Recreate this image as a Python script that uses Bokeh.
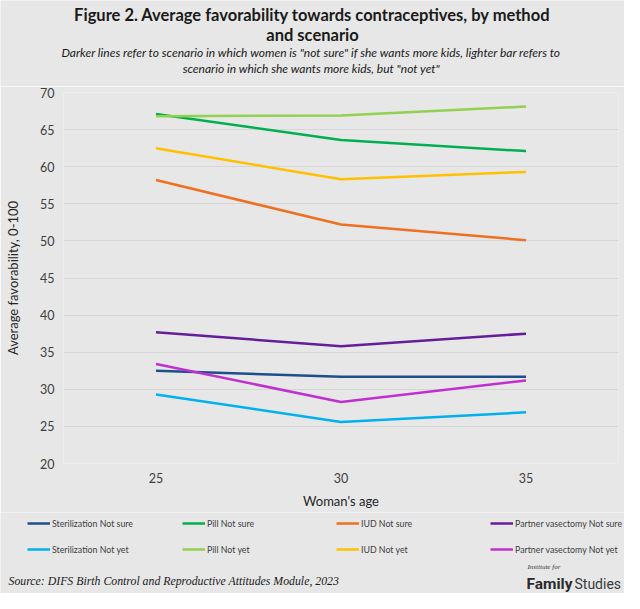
from bokeh.plotting import figure
from bokeh.models import Label, Legend, LegendItem, FixedTicker, Range1d, ColumnDataSource
from bokeh.layouts import column
from bokeh.embed import file_html
from bokeh.resources import INLINE

# ---- data ----
ages = [25, 30, 35]
x_ticks = [25, 30, 35]
y_ticks = [20, 25, 30, 35, 40, 45, 50, 55, 60, 65, 70]

series_names = [
    "Sterilization Not sure", "Pill Not sure", "IUD Not sure", "Partner vasectomy Not sure",
    "Sterilization Not yet", "Pill Not yet", "IUD Not yet", "Partner vasectomy Not yet",
]
sterilization_not_sure = [32.5, 31.7, 31.7]
pill_not_sure = [67.1, 63.6, 62.1]
iud_not_sure = [58.2, 52.2, 50.1]
vasectomy_not_sure = [37.7, 35.8, 37.5]
sterilization_not_yet = [29.3, 25.6, 26.9]
pill_not_yet = [66.8, 66.9, 68.1]
iud_not_yet = [62.5, 58.3, 59.3]
vasectomy_not_yet = [33.4, 28.3, 31.2]

series_values = [
    sterilization_not_sure, pill_not_sure, iud_not_sure, vasectomy_not_sure,
    sterilization_not_yet, pill_not_yet, iud_not_yet, vasectomy_not_yet,
]
series_colors = [
    "#1F4E8C", "#00B050", "#EE7020", "#641E9B",
    "#00B0F0", "#92D050", "#FFC000", "#C030D0",
]

title_lines = ["Figure 2. Average favorability towards contraceptives, by method", "and scenario"]
subtitle_lines = ['Darker lines refer to scenario in which women is "not sure" if she wants more kids, lighter bar refers to',
                  'scenario in which she wants more kids, but "not yet"']
source_text = "Source: DIFS Birth Control and Reproductive Attitudes Module, 2023"

BG = "#E7E7E7"
FONT = "Lato"
TXT = "#404040"
W = 624


def blank(height):
    f = figure(width=W, height=height, output_backend="svg", toolbar_location=None,
               x_range=Range1d(0, 1), y_range=Range1d(0, 1),
               min_border=0, x_axis_type=None, y_axis_type=None, frame_align=False)
    f.background_fill_color = BG
    f.border_fill_color = BG
    f.outline_line_color = None
    f.grid.visible = False
    return f


def lab(fig, text, sx, sy, size, style="normal", font=FONT, align="center", color="#1a1a1a"):
    fig.add_layout(Label(x=sx, y=sy, x_units="screen", y_units="screen", text=text,
                         text_font=font, text_font_size=size, text_font_style=style,
                         text_align=align, text_baseline="middle", text_color=color))


# ---- header ----
header = blank(86)
lab(header, title_lines[0], 312, 72, "16.5px", "bold")
lab(header, title_lines[1], 312, 52, "16.5px", "bold")
lab(header, subtitle_lines[0], 311, 34, "12px", "italic")
lab(header, subtitle_lines[1], 311, 18, "12px", "italic")

# ---- main chart ----
p = figure(width=W, height=426, output_backend="svg", toolbar_location=None,
           x_range=Range1d(22.5, 37.5), y_range=Range1d(20, 70), frame_align=False,
           min_border_left=63, min_border_right=6, min_border_top=6, min_border_bottom=49)
p.background_fill_color = BG
p.border_fill_color = BG
p.outline_line_color = None

for name, vals, col in zip(series_names, series_values, series_colors):
    p.line(ages, vals, line_color=col, line_width=2.5)

p.xaxis.ticker = FixedTicker(ticks=x_ticks)
p.yaxis.ticker = FixedTicker(ticks=y_ticks)
for ax in (p.xaxis[0], p.yaxis[0]):
    ax.axis_line_color = None
    ax.major_tick_line_color = None
    ax.minor_tick_line_color = None
    ax.major_tick_out = 0
    ax.major_tick_in = 0
    ax.minor_tick_out = 0
    ax.minor_tick_in = 0
    ax.major_label_text_font = FONT
    ax.major_label_text_font_size = "12.5px"
    ax.major_label_text_color = TXT
    ax.axis_label_text_font = FONT
    ax.axis_label_text_font_size = "13px"
    ax.axis_label_text_font_style = "normal"
    ax.axis_label_text_color = "#262626"
p.yaxis.major_label_standoff = 9
p.xaxis.major_label_standoff = 9
p.yaxis.axis_label = "Average favorability, 0-100"
p.yaxis.axis_label_standoff = 16
p.xaxis.axis_label = "Woman's age"
p.xaxis.axis_label_standoff = 7

p.xgrid.grid_line_color = None
p.ygrid.grid_line_color = "#D6D6D6"
p.ygrid.grid_line_width = 1

# ---- footer: legend, source, logo ----
footer = blank(81)
leg_x = [27, 182, 336, 490]
leg_y = [62, 36]
for i, (name, col) in enumerate(zip(series_names, series_colors)):
    row, c = divmod(i, 4)
    # legend key only: a line kept outside the visible range of the footer
    src = ColumnDataSource(data=dict(x=[-5, -4], y=[-5, -5]))
    r = footer.line("x", "y", source=src, line_color=col, line_width=2.5)
    lg = Legend(items=[LegendItem(label=name, renderers=[r])],
                location=(leg_x[c], leg_y[row]),
                padding=0, margin=0, spacing=0,
                border_line_color=None, background_fill_alpha=0,
                glyph_width=23, glyph_height=16, label_height=16,
                label_standoff=2, label_text_font=FONT,
                label_text_font_size="8.8px", label_text_color=TXT)
    footer.add_layout(lg, "center")

lab(footer, source_text, 8, 13, "11.8px", "italic",
    font="Liberation Serif, Times New Roman, serif", align="left", color="#1a1a1a")
lab(footer, "Institute for", 527, 27, "7px", "italic", font="Liberation Serif, serif", align="left", color="#333333")
lab(footer, "Family", 526, 10, "15.5px", "bold", font="Roboto, sans-serif", align="left", color="#2b2b2b")
lab(footer, "Studies", 574, 10, "14px", "normal", font="Roboto, sans-serif", align="left", color="#3a3a3a")

layout = column(header, p, footer, spacing=0)
open("out.html", "w").write(file_html(layout, INLINE))
